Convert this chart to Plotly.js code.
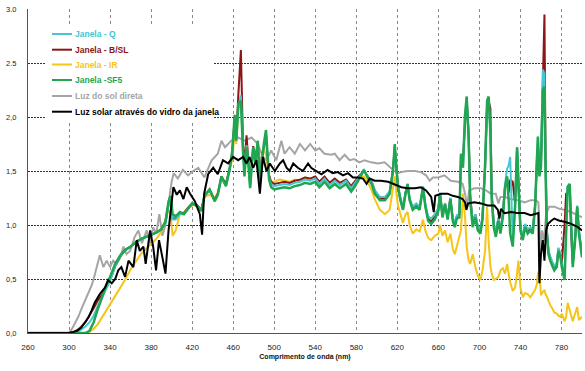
<!DOCTYPE html>
<html><head><meta charset="utf-8">
<script src="https://cdn.plot.ly/plotly-3.0.1.min.js"></script>
<style>html,body{margin:0;padding:0;background:#fff}#chart{width:585px;height:371px}</style>
</head><body><div id="chart"></div>
<script>
// wavelength grid shared by the four window series (nm)
const wlWin = [260,300,305,310,316,320,324,328,332,336,
 340,345,350,355,360,365,370,375,380,385,
 390,394,397,399,401,404,408,412,416,420,
 424,429,432,437,442,445,448.5,453,456.5,459,
 461.5,463,465,467.5,469.5,471,473,474.6,476.5,479.5,
 481.7,484,486,488,490,492,493.5,495,497,500,
 505,510,515,520,525,530,535,540,544,549,
 554,559,564,570,575,578,583,587.5,591,595,
 598,603,608,612.5,615.7,617.5,619,620.6,623,625.5,
 628,630,632,635,638.5,641.7,645,647.3,650,653,
 656.5,660,661.6,664,666.5,669,671.7,674,676,678,
 680.5,682,684,686,687.6,689.5,691,693.5,696,698.5,
 701,703,705.5,707.5,709,710.7,712,714,716,718.5,
 720.5,722.8,725,727,728.5,730,732.5,734.8,736.7,738,
 740,742.3,744.5,747,749.7,752,754.3,756,757,758.5,
 760,761.8,763.4,764.4,765.7,767.3,769,771.5,773,775.4,
 777,779,780.3,783,784.5,786,788,789.4,791,793.3,
 795.3,797,799,800];

const janelaSF5 = [0,0,0,0,0,0.02,0.10,0.22,0.33,0.43,
 0.52,0.64,0.72,0.77,0.80,0.84,0.87,0.89,0.91,0.93,
 0.96,1.03,1.22,1.27,1.10,1.08,1.12,1.10,1.15,1.20,
 1.18,1.13,1.27,1.33,1.22,1.28,1.45,1.36,1.52,1.68,
 2.02,1.78,2.12,2.15,1.70,1.45,1.72,1.60,1.34,1.72,
 1.58,1.78,1.40,1.62,1.76,1.88,1.62,1.42,1.35,1.33,
 1.34,1.35,1.34,1.36,1.37,1.39,1.38,1.40,1.35,1.40,
 1.34,1.38,1.34,1.38,1.31,1.35,1.43,1.51,1.44,1.38,
 1.29,1.23,1.23,1.29,1.50,1.75,1.54,1.35,1.23,1.14,
 1.29,1.38,1.23,1.14,1.17,1.14,1.35,1.17,1.04,1.01,
 1.05,1.13,1.29,1.07,1.19,1.05,1.24,1.04,0.98,1.06,
 1.07,1.66,1.53,2.02,2.19,1.80,1.23,0.98,1.07,0.95,
 0.92,1.05,1.55,2.15,2.19,1.85,1.23,0.98,0.89,1.04,
 0.92,1.07,1.35,1.45,1.23,0.92,0.80,1.17,1.72,1.35,
 0.95,0.86,0.98,0.92,0.95,0.92,1.17,1.60,1.82,1.45,
 1.54,2.25,2.28,1.54,0.92,0.73,0.67,0.61,0.58,0.61,
 0.76,0.70,0.61,0.49,0.92,1.35,1.38,0.92,0.61,0.86,
 1.17,0.92,0.73,0.70];

const janelaQ = [0,0,0,0.02,0.06,0.10,0.16,0.25,0.33,0.40,
 0.48,0.62,0.71,0.77,0.80,0.84,0.87,0.89,0.91,0.93,
 0.96,1.02,1.18,1.22,1.05,1.05,1.10,1.10,1.15,1.19,
 1.18,1.13,1.26,1.32,1.22,1.28,1.44,1.36,1.50,1.65,
 1.98,1.78,2.10,2.20,1.72,1.47,1.74,1.62,1.36,1.72,
 1.60,1.76,1.42,1.63,1.74,1.85,1.62,1.44,1.38,1.36,
 1.37,1.38,1.37,1.39,1.40,1.42,1.41,1.43,1.38,1.43,
 1.37,1.41,1.37,1.41,1.34,1.38,1.45,1.51,1.45,1.40,
 1.32,1.26,1.26,1.31,1.50,1.72,1.54,1.37,1.26,1.17,
 1.30,1.38,1.25,1.17,1.20,1.17,1.36,1.20,1.08,1.06,
 1.10,1.16,1.30,1.10,1.20,1.08,1.25,1.07,1.02,1.09,
 1.10,1.64,1.55,2.00,2.17,1.80,1.26,1.02,1.10,0.99,
 0.96,1.08,1.55,2.12,2.17,1.88,1.26,1.02,0.93,1.07,
 0.96,1.10,1.38,1.52,1.55,1.63,0.85,1.20,1.72,1.37,
 0.98,0.90,1.01,0.96,0.98,0.96,1.20,1.60,1.80,1.47,
 1.56,2.44,2.40,1.60,0.96,0.77,0.71,0.65,0.62,0.65,
 0.79,0.73,0.65,0.53,0.95,1.36,1.38,0.95,0.65,0.89,
 1.18,0.95,0.77,0.74];

const janelaBSL = [0,0,0.01,0.04,0.10,0.16,0.23,0.30,0.35,0.42,
 0.49,0.62,0.71,0.77,0.80,0.84,0.87,0.89,0.91,0.93,
 0.96,1.03,1.20,1.24,1.06,1.06,1.11,1.11,1.16,1.20,
 1.19,1.14,1.27,1.33,1.23,1.29,1.45,1.38,1.52,1.66,
 1.98,1.80,2.20,2.62,1.78,1.52,1.83,1.66,1.38,1.73,
 1.62,1.75,1.44,1.64,1.74,1.82,1.62,1.46,1.40,1.38,
 1.39,1.40,1.39,1.41,1.42,1.44,1.43,1.45,1.40,1.45,
 1.39,1.43,1.39,1.42,1.36,1.40,1.46,1.50,1.45,1.40,
 1.32,1.24,1.24,1.30,1.50,1.72,1.54,1.36,1.24,1.15,
 1.30,1.36,1.24,1.15,1.18,1.15,1.35,1.18,1.06,1.03,
 1.08,1.15,1.29,1.09,1.20,1.07,1.25,1.06,1.01,1.08,
 1.10,1.60,1.62,2.00,2.17,1.85,1.28,1.02,1.10,0.98,
 0.95,1.07,1.52,2.10,2.15,2.08,1.30,1.01,0.92,1.06,
 0.95,1.09,1.36,1.44,1.30,1.42,1.40,1.20,1.70,1.36,
 0.97,0.88,1.00,0.95,0.97,0.95,1.18,1.55,1.72,1.60,
 1.56,2.30,2.95,1.70,0.95,0.76,0.70,0.64,0.61,0.64,
 0.78,0.72,0.64,1.00,1.29,1.30,1.36,0.93,0.64,0.88,
 1.16,0.94,0.76,0.73];

const janelaIR = [0,0,0,0,0,0.01,0.04,0.08,0.14,0.20,
 0.26,0.34,0.42,0.50,0.59,0.66,0.73,0.78,0.83,0.87,
 0.94,1.05,1.14,1.10,0.90,0.95,1.10,1.12,1.15,1.18,
 1.19,1.14,1.26,1.28,1.25,1.30,1.42,1.40,1.50,1.60,
 1.85,1.75,2.05,2.20,1.72,1.50,1.70,1.62,1.40,1.70,
 1.62,1.75,1.45,1.65,1.70,1.65,1.55,1.44,1.40,1.40,
 1.42,1.41,1.40,1.42,1.41,1.44,1.42,1.44,1.40,1.44,
 1.38,1.42,1.38,1.40,1.34,1.38,1.44,1.45,1.40,1.32,
 1.24,1.14,1.10,1.14,1.35,1.45,1.30,1.18,1.10,1.02,
 1.10,1.12,1.00,0.92,0.96,0.94,1.05,0.95,0.88,0.86,
 0.90,0.92,1.00,0.90,0.95,0.84,0.92,0.78,0.73,0.80,
 0.88,0.95,1.29,1.07,0.80,0.67,0.64,0.73,0.61,0.53,
 0.49,0.58,0.76,1.17,0.85,0.62,0.55,0.49,0.50,0.52,
 0.58,0.60,0.55,0.64,0.55,0.47,0.39,0.42,0.55,0.67,
 0.42,0.33,0.37,0.36,0.33,0.36,0.40,0.45,0.55,0.58,
 0.35,0.38,0.40,0.36,0.34,0.30,0.26,0.22,0.19,0.18,
 0.16,0.15,0.18,0.11,0.15,0.28,0.22,0.16,0.11,0.18,
 0.24,0.12,0.14,0.15];

// direct sunlight
const wlSun = [260,300,303,306,309,312,315.6,319,322,324,
 327,330,333.5,336.7,340,343,346.5,350,353,356,
 359.5,364,367.6,371,375.7,379,382,385,388,391,
 394,397,400,402,406,411,416,421,426,432,
 439,445,448.6,452,458,465,471,478,484,489,
 492.5,497,502,507,510,515,520,525,530,535,
 540,544,549,555.6,559,563.7,568.6,573.5,578,583,
 588,594.6,601,607.6,612.5,617,620.6,624,630,637,
 643,648,651.5,654.7,660,666,672,679,683.7,686,
 688,690,695,701.6,706.5,711,716,718.5,720.5,724.4,
 731,737.5,744,750,755,757.5,759.5,761,763,765,
 768,773,778,783,789.4,796,800];
const sunDirect = [0,0,0.04,0.09,0.15,0.22,0.30,0.37,0.44,0.50,
 0.61,0.72,0.61,0.67,0.61,0.67,0.64,0.70,0.80,0.73,
 0.76,0.89,0.95,0.83,0.95,0.83,0.98,0.92,1.10,0.90,
 1.00,1.20,1.40,1.48,1.43,1.51,1.46,1.50,1.53,1.44,
 1.60,1.66,1.78,1.72,1.78,1.81,1.78,1.81,1.75,1.63,
 1.60,1.69,1.60,1.78,1.66,1.72,1.66,1.75,1.69,1.75,
 1.69,1.71,1.66,1.65,1.66,1.60,1.65,1.60,1.61,1.58,
 1.60,1.58,1.57,1.58,1.54,1.50,1.48,1.49,1.50,1.50,
 1.49,1.46,1.41,1.44,1.44,1.46,1.41,1.40,1.38,1.29,
 1.17,1.32,1.34,1.34,1.32,1.29,1.29,1.20,1.26,1.26,
 1.24,1.23,1.21,1.23,1.23,1.21,0.75,0.95,0.85,1.10,
 1.17,1.17,1.15,1.14,1.12,1.09,1.07];

// sunlight through window glass
const wlGlass = [260,300,304,308,312,316,319,322,325,330,
 335,338,341.6,345,348,351,354.6,358,362.7,366,
 369,372.5,374.7,379,382,384.8,387.7,391,394,397,
 399.5,401.7,405,408,411.5,414.7,418,422.6,427.5,429.7,
 431.7,435.6,440.5,445,450,455,460,464.8,469.7,473,
 476,479.5,482.7,486,489,492.5,495.7,500.6,505.5,508.7,
 512,515,518.5,523,528,533,536,541,546,552,
 557,562,567,572,576.7,581.6,586.5,590,593,598,
 604,611,617,624,630,637,643,648,653,655.5,
 657,663,669,674,679,683.7,686,687.3,689,695,
 701.6,708,714.6,718,719.5,721,724.4,731,737.5,744,
 750,757.5,758.5,760,761.8,763.4,765,766.7,770,773,
 778,783,789.4,796,800];
const sunGlass = [0,0,0.01,0.02,0.05,0.10,0.145,0.21,0.28,0.36,
 0.42,0.49,0.46,0.50,0.58,0.61,0.52,0.67,0.61,0.86,
 0.76,0.80,0.64,0.95,0.80,0.58,0.86,0.70,0.55,0.95,
 1.20,1.35,1.28,1.32,1.24,1.35,1.29,1.22,1.10,0.91,
 1.29,1.47,1.53,1.47,1.60,1.57,1.63,1.60,1.63,1.57,
 1.63,1.53,1.60,1.29,1.63,1.50,1.57,1.50,1.57,1.60,
 1.53,1.50,1.57,1.53,1.50,1.57,1.53,1.50,1.47,1.51,
 1.48,1.49,1.46,1.48,1.44,1.44,1.43,1.38,1.43,1.41,
 1.41,1.40,1.38,1.35,1.34,1.34,1.35,1.32,1.26,1.12,
 1.27,1.29,1.29,1.27,1.26,1.24,1.21,1.14,1.20,1.21,
 1.20,1.18,1.18,1.14,1.06,1.15,1.11,1.12,1.11,1.11,
 1.09,1.11,0.46,0.73,0.86,0.67,0.95,1.01,1.04,1.06,
 1.04,1.03,1.01,0.98,0.95];

const xTickVals = [260,300,340,380,420,460,500,540,580,620,660,700,740,780];
const yTickVals = [0,0.5,1,1.5,2,2.5,3];
const yTickText = ['0,0','0,5','1,0','1,5','2,0','2.5','3.0'];

const seriesNames = ['Janela - Q','Janela - B/SL','Janela - IR','Janela -SF5','Luz do sol direta','Luz solar através do vidro da janela'];
const seriesColors = ['#45c6d2','#8c1515','#f5c518','#1fa651','#a5a5a5','#000000'];

const traces = [
  {x: wlSun, y: sunDirect, name: seriesNames[4], color: seriesColors[4], w: 2},
  {x: wlWin, y: janelaIR, name: seriesNames[2], color: seriesColors[2], w: 2},
  {x: wlWin, y: janelaBSL, name: seriesNames[1], color: seriesColors[1], w: 2},
  {x: wlWin, y: janelaQ, name: seriesNames[0], color: seriesColors[0], w: 2},
  {x: wlWin, y: janelaSF5, name: seriesNames[3], color: seriesColors[3], w: 2.5},
  {x: wlGlass, y: sunGlass, name: seriesNames[5], color: seriesColors[5], w: 2}
].map(s => ({type:'scatter', mode:'lines', x:s.x, y:s.y, name:s.name,
  line:{color:s.color, width:s.w}, hoverinfo:'x+y+name', showlegend:false}));

// manual legend (pixel positions converted to paper coords)
const L = 28, T = 9, W = 554, H = 324;
const px = v => (v - L) / W;
const py = v => 1 - (v - T) / H;
const legendY = [34, 49.7, 64.5, 80, 96, 111.7];
const shapes = [{type:'rect', xref:'paper', yref:'paper', x0:px(45), x1:px(214), y0:py(26.5), y1:py(120),
  fillcolor:'#ffffff', line:{width:0}, layer:'above'}];
const annotations = [];
seriesNames.forEach((n, i) => {
  shapes.push({type:'line', xref:'paper', yref:'paper', x0:px(52), x1:px(72), y0:py(legendY[i]), y1:py(legendY[i]),
    line:{color:seriesColors[i], width:2}, layer:'above'});
  annotations.push({xref:'paper', yref:'paper', x:px(72.5), y:py(legendY[i]), xanchor:'left', yanchor:'middle',
    text:'<b>' + n + '</b>', showarrow:false, font:{family:'Liberation Sans, Arial, sans-serif', size:8.5, color:seriesColors[i]}});
});

const layout = {
  width:585, height:371,
  margin:{l:L, r:585-L-W, t:T, b:371-T-H, pad:0},
  paper_bgcolor:'#ffffff', plot_bgcolor:'#ffffff',
  font:{family:'Liberation Sans, Arial, sans-serif', color:'#222'},
  xaxis:{range:[260,800], tickmode:'array', tickvals:xTickVals, ticks:'', ticklabelstandoff:6,
    tickfont:{size:8, color:'#222'}, showgrid:true, gridcolor:'#8a8a8a', griddash:'dot', gridwidth:1,
    showline:true, linecolor:'#555', linewidth:1, zeroline:false,
    title:{text:'<b>Comprimento de onda (nm)</b>', font:{size:7, color:'#111'}, standoff:3}},
  yaxis:{range:[0,3], tickmode:'array', tickvals:yTickVals, ticktext:yTickText, ticks:'', ticklabelstandoff:9,
    tickfont:{size:7.5, color:'#222'}, showgrid:true, gridcolor:'#333', griddash:'2px,1px', gridwidth:1,
    showline:true, linecolor:'#555', linewidth:1, zeroline:false},
  shapes: shapes, annotations: annotations, showlegend:false
};

Plotly.newPlot('chart', traces, layout, {displayModeBar:false, staticPlot:true});
</script></body></html>
